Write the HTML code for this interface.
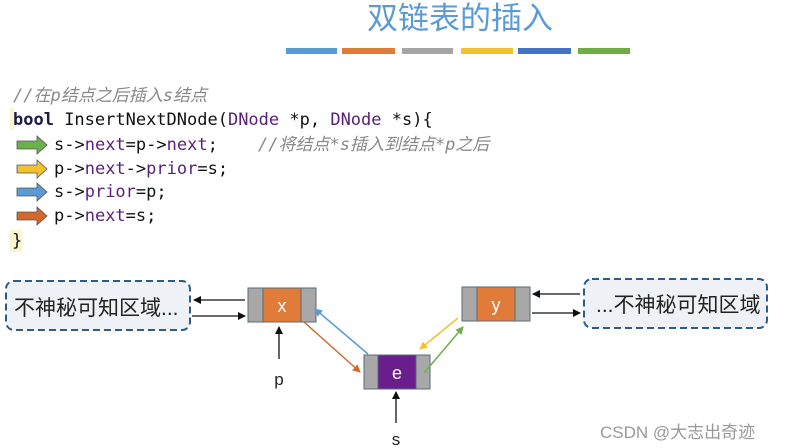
<!DOCTYPE html>
<html><head><meta charset="utf-8"><style>
body{margin:0;background:#fff;width:793px;height:448px;overflow:hidden}
svg{display:block}
.code{font-family:"DejaVu Sans Mono","Liberation Mono",monospace;font-size:17px;fill:#111}
.kw{fill:#5a1f7a}
.cm{fill:#888;font-style:italic}
.cn{font-family:"Liberation Sans","Noto Sans CJK SC",sans-serif}
</style></head><body>
<svg width="793" height="448" viewBox="0 0 793 448">
<defs>
<marker id="ak" markerWidth="8" markerHeight="8" refX="7" refY="4" orient="auto" markerUnits="userSpaceOnUse"><path d="M0,0 L8,4 L0,8z" fill="#111"/></marker>
<marker id="ab" markerWidth="8" markerHeight="8" refX="7" refY="4" orient="auto" markerUnits="userSpaceOnUse"><path d="M0,0 L8,4 L0,8z" fill="#5b9bd5"/></marker>
<marker id="ao" markerWidth="8" markerHeight="8" refX="7" refY="4" orient="auto" markerUnits="userSpaceOnUse"><path d="M0,0 L8,4 L0,8z" fill="#d2692a"/></marker>
<marker id="ay" markerWidth="8" markerHeight="8" refX="7" refY="4" orient="auto" markerUnits="userSpaceOnUse"><path d="M0,0 L8,4 L0,8z" fill="#f2c12e"/></marker>
<marker id="ag" markerWidth="8" markerHeight="8" refX="7" refY="4" orient="auto" markerUnits="userSpaceOnUse"><path d="M0,0 L8,4 L0,8z" fill="#6ab04c"/></marker>
</defs>
<text x="460" y="29" text-anchor="middle" class="cn" font-size="31" fill="#5b9bd5">双链表的插入</text>
<rect x="286" y="48" width="51" height="6" fill="#5b9bd5"/>
<rect x="342" y="48" width="53" height="6" fill="#e07b39"/>
<rect x="402" y="48" width="51" height="6" fill="#a5a5a5"/>
<rect x="461" y="48" width="52" height="6" fill="#f2c12e"/>
<rect x="518" y="48" width="53" height="6" fill="#4472c4"/>
<rect x="578" y="48" width="52" height="6" fill="#70ad47"/>

<text x="13" y="101" class="code cm" font-size="17">//在<tspan>p</tspan>结点之后插入<tspan>s</tspan>结点</text>
<rect x="10" y="108" width="4" height="22" fill="#fbf5d0"/>
<text x="13" y="125" class="code"><tspan font-weight="bold" fill="#1a1a4a">bool</tspan> InsertNextDNode(<tspan class="kw">DNode</tspan> *p, <tspan class="kw">DNode</tspan> *s){</text>
<g stroke="#555" stroke-width="0.8">
<path d="M17,141 H37 V136 L47,145 L37,154 V149 H17z" fill="#6ab04c"/>
<path d="M17,165 H37 V160 L47,169 L37,178 V173 H17z" fill="#f2c12e"/>
<path d="M17,188 H37 V183 L47,192 L37,201 V196 H17z" fill="#5b9bd5"/>
<path d="M17,212 H37 V207 L47,216 L37,225 V220 H17z" fill="#d2692a"/>
</g>
<text x="54" y="150" class="code">s-&gt;<tspan class="kw">next</tspan>=p-&gt;<tspan class="kw">next</tspan>;</text>
<text x="258" y="150" class="code cm">//将结点*s插入到结点*p之后</text>
<text x="54" y="174" class="code">p-&gt;<tspan class="kw">next</tspan>-&gt;<tspan class="kw">prior</tspan>=s;</text>
<text x="54" y="197" class="code">s-&gt;<tspan class="kw">prior</tspan>=p;</text>
<text x="54" y="221" class="code">p-&gt;<tspan class="kw">next</tspan>=s;</text>
<rect x="10" y="230" width="12" height="22" fill="#fbf5d0"/>
<text x="12" y="246" class="code">}</text>

<rect x="6" y="281" width="184" height="49" rx="8" fill="#eef2f7" stroke="#2e5b87" stroke-width="2" stroke-dasharray="7,4"/>
<text x="14" y="315" class="cn" font-size="21" fill="#222">不神秘可知区域...</text>
<rect x="584" y="279" width="183" height="49" rx="8" fill="#eef2f7" stroke="#2e5b87" stroke-width="2" stroke-dasharray="7,4"/>
<text x="596" y="312" class="cn" font-size="21" fill="#222">...不神秘可知区域</text>

<g stroke="#5a6a7a" stroke-width="1">
<rect x="248" y="288" width="15" height="34" fill="#a8a8a8"/><rect x="263" y="288" width="38" height="34" fill="#e07b39"/><rect x="301" y="288" width="15" height="34" fill="#a8a8a8"/>
<rect x="462" y="287" width="15" height="34" fill="#a8a8a8"/><rect x="477" y="287" width="38" height="34" fill="#e07b39"/><rect x="515" y="287" width="15" height="34" fill="#a8a8a8"/>
<rect x="364" y="355" width="14" height="34" fill="#a8a8a8"/><rect x="378" y="355" width="38" height="34" fill="#6a1e8e"/><rect x="416" y="355" width="14" height="34" fill="#a8a8a8"/>
</g>
<text x="282" y="312" text-anchor="middle" class="cn" font-size="18" fill="#fff">x</text>
<text x="496" y="311" text-anchor="middle" class="cn" font-size="18" fill="#fff">y</text>
<text x="397" y="379" text-anchor="middle" class="cn" font-size="18" fill="#fff">e</text>

<g stroke="#111" stroke-width="1.3" fill="none">
<line x1="245" y1="300" x2="194" y2="300" marker-end="url(#ak)"/>
<line x1="192" y1="316" x2="245" y2="316" marker-end="url(#ak)"/>
<line x1="580" y1="294" x2="533" y2="294" marker-end="url(#ak)"/>
<line x1="532" y1="313" x2="580" y2="313" marker-end="url(#ak)"/>
<line x1="279" y1="359" x2="279" y2="327" marker-end="url(#ak)"/>
<line x1="396" y1="423" x2="396" y2="392" marker-end="url(#ak)"/>
</g>
<line x1="368" y1="354" x2="315" y2="309" stroke="#5b9bd5" stroke-width="1.5" marker-end="url(#ab)"/>
<line x1="304" y1="322" x2="360" y2="372" stroke="#d2692a" stroke-width="1.5" marker-end="url(#ao)"/>
<line x1="458" y1="318" x2="420" y2="349" stroke="#f2c12e" stroke-width="1.5" marker-end="url(#ay)"/>
<line x1="424" y1="373" x2="463" y2="327" stroke="#6ab04c" stroke-width="1.5" marker-end="url(#ag)"/>
<text x="279" y="385" text-anchor="middle" class="cn" font-size="17" fill="#222">p</text>
<text x="396" y="445" text-anchor="middle" class="cn" font-size="17" fill="#222">s</text>
<text x="600" y="438" class="cn" font-size="17" fill="#999">CSDN @大志出奇迹</text>
</svg>
</body></html>
